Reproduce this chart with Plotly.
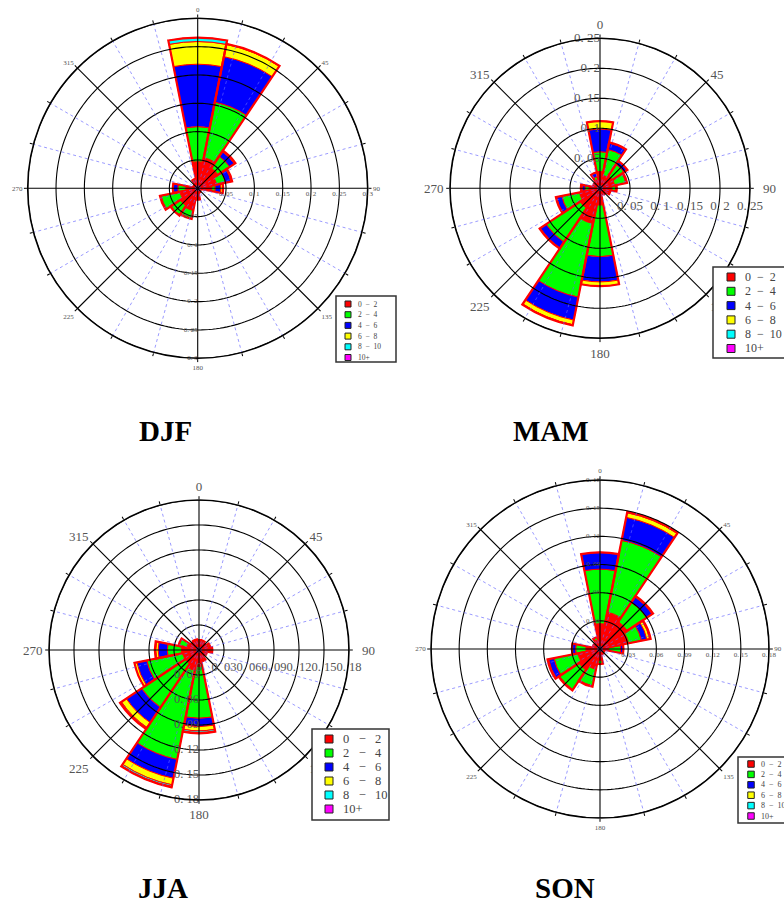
import numpy as np
import plotly.graph_objects as go

W, H = 784, 904
SERIF = "Liberation Serif, DejaVu Serif, serif"
NB = "\u00a0"

# ---------------- data ----------------
DIRECTIONS = [0, 22.5, 45, 67.5, 90, 112.5, 135, 157.5, 180, 202.5, 225, 247.5, 270, 292.5, 315, 337.5]
SPEED_BINS = ["0 \u2212 2", "2 \u2212 4", "4 \u2212 6", "6 \u2212 8", "8 \u2212 10", "10+"]
BIN_COLORS = ["#ff0000", "#00ff00", "#0000ff", "#ffff00", "#00ffff", "#ff00ff"]

# frequency of each speed class per direction (segment sizes)
DJF_0_2 = [0.047, 0.055, 0.043, 0.034, 0.025, 0.006, 0.005, 0.008, 0.018, 0.040, 0.037, 0.032, 0.021, 0.008, 0.008, 0.014]
DJF_2_4 = [0.062, 0.100, 0.025, 0.016, 0.006, 0, 0, 0, 0.002, 0.014, 0.020, 0.034, 0.014, 0, 0, 0.003]
DJF_4_6 = [0.110, 0.082, 0.010, 0.010, 0.010, 0, 0, 0, 0, 0.001, 0.001, 0.002, 0.008, 0, 0, 0]
DJF_6_8 = [0.040, 0.022, 0.002, 0.002, 0.004, 0, 0, 0, 0, 0, 0, 0, 0.001, 0, 0, 0]
DJF_8_10 = [0.007, 0.001, 0, 0, 0, 0, 0, 0, 0, 0, 0, 0, 0, 0, 0, 0]
DJF_10P = [0, 0, 0, 0, 0, 0, 0, 0, 0, 0, 0, 0, 0, 0, 0, 0]

MAM_0_2 = [0.028, 0.022, 0.025, 0.025, 0.020, 0.018, 0.012, 0.010, 0.028, 0.060, 0.040, 0.035, 0.018, 0.012, 0.010, 0.015]
MAM_2_4 = [0.033, 0.044, 0.023, 0.019, 0.006, 0, 0, 0, 0.086, 0.125, 0.068, 0.030, 0.007, 0, 0.002, 0.005]
MAM_4_6 = [0.038, 0.011, 0.006, 0.002, 0.002, 0, 0, 0, 0.042, 0.039, 0.012, 0.009, 0.005, 0, 0, 0.007]
MAM_6_8 = [0.013, 0.001, 0.001, 0, 0, 0, 0, 0, 0.007, 0.008, 0.001, 0.001, 0.002, 0, 0, 0]
MAM_8_10 = [0, 0, 0, 0, 0, 0, 0, 0, 0, 0.001, 0, 0, 0, 0, 0, 0]
MAM_10P = [0, 0, 0, 0, 0, 0, 0, 0, 0, 0, 0, 0, 0, 0, 0, 0]

JJA_0_2 = [0.010, 0.010, 0.010, 0.012, 0.014, 0.010, 0.008, 0.014, 0.020, 0.025, 0.020, 0.020, 0.021, 0.015, 0.012, 0.013]
JJA_2_4 = [0.002, 0.002, 0, 0.002, 0.002, 0, 0, 0, 0.062, 0.109, 0.063, 0.044, 0.017, 0.010, 0, 0]
JJA_4_6 = [0, 0, 0, 0, 0, 0, 0, 0, 0.010, 0.023, 0.022, 0.012, 0.011, 0, 0, 0]
JJA_6_8 = [0, 0, 0, 0, 0, 0, 0, 0, 0.005, 0.008, 0.007, 0.003, 0.003, 0, 0, 0]
JJA_8_10 = [0, 0, 0, 0, 0, 0, 0, 0, 0.002, 0.002, 0.001, 0, 0.001, 0, 0, 0]
JJA_10P = [0, 0, 0, 0, 0, 0, 0, 0, 0.001, 0.001, 0.001, 0, 0, 0, 0, 0]

SON_0_2 = [0.027, 0.040, 0.035, 0.031, 0.009, 0.005, 0.004, 0.006, 0.012, 0.022, 0.027, 0.024, 0.015, 0.008, 0.005, 0.010]
SON_2_4 = [0.058, 0.078, 0.025, 0.014, 0.013, 0, 0, 0, 0.004, 0.018, 0.025, 0.026, 0.011, 0, 0, 0.003]
SON_4_6 = [0.018, 0.025, 0.007, 0.006, 0.003, 0, 0, 0, 0, 0.001, 0.001, 0.006, 0.004, 0, 0, 0]
SON_6_8 = [0, 0.005, 0.001, 0.003, 0, 0, 0, 0, 0, 0, 0, 0.001, 0, 0, 0, 0]
SON_8_10 = [0, 0.001, 0, 0.001, 0, 0, 0, 0, 0, 0, 0, 0, 0, 0, 0, 0]
SON_10P = [0, 0, 0, 0, 0, 0, 0, 0, 0, 0, 0, 0, 0, 0, 0, 0]

# radial rings / tick labels
DJF_RINGS = [0.05, 0.1, 0.15, 0.2, 0.25, 0.3]
DJF_RING_LABELS = ["0. 05", "0. 1", "0. 15", "0. 2", "0. 25", "0. 3"]
MAM_RINGS = [0.05, 0.1, 0.15, 0.2, 0.25]
MAM_RING_LABELS = ["0. 05", "0. 1", "0. 15", "0. 2", "0. 25"]
JJA_RINGS = [0.03, 0.06, 0.09, 0.12, 0.15, 0.18]
JJA_RING_LABELS = ["0. 03", "0. 06", "0. 09", "0. 12", "0. 15", "0. 18"]
SON_RINGS = [0.03, 0.06, 0.09, 0.12, 0.15, 0.18]
SON_RING_LABELS = ["0. 03", "0. 06", "0. 09", "0. 12", "0. 15", "0. 18"]

ANGLE_TICKS = list(range(0, 360, 15))
ANGLE_LABELS = [str(a) if a % 45 == 0 else "" for a in ANGLE_TICKS]

# ---------------- layout config ----------------
seasons = [
    dict(name="DJF", bins=[DJF_0_2, DJF_2_4, DJF_4_6, DJF_6_8, DJF_8_10, DJF_10P],
         rings=DJF_RINGS, labels=DJF_RING_LABELS, zero=False, sub="polar",
         cx=197.7, cy=188.3, R=170, fs=7, afs=7, side_theta=180, title=(165, 431),
         tlen=0, pad90=0,
         leg=dict(l=336, t=296, r=396, b=362, sx=348, y0=304, step=10.7, sw=6, tx=356, fs=7.5, gap=2)),
    dict(name="MAM", bins=[MAM_0_2, MAM_2_4, MAM_4_6, MAM_6_8, MAM_8_10, MAM_10P],
         rings=MAM_RINGS, labels=MAM_RING_LABELS, zero=False, sub="polar2",
         cx=600, cy=188.3, R=150, fs=13, afs=13, side_theta=0, title=(551, 431),
         tlen=6, pad90=2,
         leg=dict(l=713, t=267, r=792, b=358, sx=731, y0=277, step=14.3, sw=8, tx=743, fs=12, gap=2)),
    dict(name="JJA", bins=[JJA_0_2, JJA_2_4, JJA_4_6, JJA_6_8, JJA_8_10, JJA_10P],
         rings=JJA_RINGS, labels=JJA_RING_LABELS, zero=True, sub="polar3",
         cx=199, cy=650, R=150, fs=12.5, afs=13, side_theta=180, title=(163, 888),
         tlen=5, pad90=2,
         leg=dict(l=312, t=729, r=389, b=820, sx=329, y0=739, step=14, sw=8, tx=341, fs=12.5, gap=3)),
    dict(name="SON", bins=[SON_0_2, SON_2_4, SON_4_6, SON_6_8, SON_8_10, SON_10P],
         rings=SON_RINGS, labels=SON_RING_LABELS, zero=False, sub="polar4",
         cx=600, cy=649, R=169, fs=7, afs=7, side_theta=0, title=(565, 888),
         tlen=0, pad90=0,
         leg=dict(l=738, t=757, r=792, b=823, sx=751, y0=764, step=10.4, sw=6.5, tx=759, fs=8, gap=2)),
]

fig = go.Figure()
shapes, annotations = [], []
layout_polars = {}

for s in seasons:
    sub = s["sub"]
    segs = np.array(s["bins"], dtype=float)
    base = np.vstack([np.zeros(len(DIRECTIONS)), np.cumsum(segs, axis=0)[:-1]])
    total = segs.sum(axis=0)
    rmax = s["rings"][-1]

    # stacked speed-class bars
    for k in range(len(SPEED_BINS)):
        fig.add_trace(go.Barpolar(
            r=segs[k], theta=DIRECTIONS, base=base[k], width=22.5,
            marker=dict(color=BIN_COLORS[k], line=dict(color="#ff0000", width=1)),
            subplot=sub, showlegend=False, hoverinfo="skip", name=SPEED_BINS[k]))

    # grid drawn above bars
    tc = np.linspace(0, 360, 241)
    ring_r, ring_t = [], []
    for v in s["rings"]:
        ring_r += [v] * len(tc) + [None]
        ring_t += list(tc) + [None]
    fig.add_trace(go.Scatterpolar(r=ring_r, theta=ring_t, mode="lines",
                                  line=dict(color="black", width=1.1), subplot=sub,
                                  showlegend=False, hoverinfo="skip"))
    sp_r, sp_t, bl_r, bl_t = [], [], [], []
    for a in ANGLE_TICKS:
        if a % 45 == 0:
            sp_r += [0, rmax, None]; sp_t += [a, a, None]
        else:
            bl_r += [0, rmax, None]; bl_t += [a, a, None]
    fig.add_trace(go.Scatterpolar(r=bl_r, theta=bl_t, mode="lines",
                                  line=dict(color="rgba(100,100,255,0.65)", width=1, dash="dot"),
                                  subplot=sub, showlegend=False, hoverinfo="skip"))
    fig.add_trace(go.Scatterpolar(r=sp_r, theta=sp_t, mode="lines",
                                  line=dict(color="black", width=1.1), subplot=sub,
                                  showlegend=False, hoverinfo="skip"))

    # outer outline of each bar
    fig.add_trace(go.Barpolar(
        r=total, theta=DIRECTIONS, width=22.5,
        marker=dict(color="rgba(0,0,0,0)", line=dict(color="#ff0000", width=2.2)),
        subplot=sub, showlegend=False, hoverinfo="skip"))

    # second set of radial labels
    fig.add_trace(go.Scatterpolar(
        r=s["rings"], theta=[s["side_theta"]] * len(s["rings"]), mode="text",
        text=s["labels"], textposition="middle left",
        textfont=dict(family=SERIF, size=s["fs"], color="#555"),
        subplot=sub, showlegend=False, hoverinfo="skip"))

    axis_vals = ([0] if s["zero"] else []) + s["rings"]
    axis_text = (["0"] if s["zero"] else []) + s["labels"]
    ang_text = [(NB * s["pad90"] + t) if a == 90 else t for a, t in zip(ANGLE_TICKS, ANGLE_LABELS)]

    layout_polars[sub] = dict(
        domain=dict(x=[(s["cx"] - s["R"]) / W, (s["cx"] + s["R"]) / W],
                    y=[1 - (s["cy"] + s["R"]) / H, 1 - (s["cy"] - s["R"]) / H]),
        bgcolor="white", barmode="overlay",
        angularaxis=dict(rotation=90, direction="clockwise", tickmode="array",
                         tickvals=ANGLE_TICKS, ticktext=ang_text, showgrid=False,
                         showline=True, linecolor="black", linewidth=1.6,
                         ticks="outside", ticklen=3, tickcolor="black",
                         tickfont=dict(family=SERIF, size=s["afs"], color="#555"),
                         layer="above traces"),
        radialaxis=dict(range=[0, rmax], tickmode="array", tickvals=axis_vals,
                        ticktext=axis_text, showgrid=False, showline=False,
                        ticks="outside" if s["tlen"] else "", ticklen=max(s["tlen"], 1),
                        tickcolor="rgba(0,0,0,0)",
                        angle=0, side="clockwise", tickangle=0,
                        tickfont=dict(family=SERIF, size=s["fs"], color="#555"),
                        layer="above traces"),
    )

    # title
    annotations.append(dict(x=s["title"][0] / W, y=1 - s["title"][1] / H, xref="paper", yref="paper",
                            text="<b>%s</b>" % s["name"], showarrow=False,
                            xanchor="center", yanchor="middle",
                            font=dict(family=SERIF, size=29, color="black")))

    # legend box
    L = s["leg"]
    shapes.append(dict(type="rect", xref="paper", yref="paper",
                       x0=L["l"] / W, x1=L["r"] / W, y0=1 - L["b"] / H, y1=1 - L["t"] / H,
                       line=dict(color="#333", width=1.5), fillcolor="white", layer="above"))
    for i, (lab, col) in enumerate(zip(SPEED_BINS, BIN_COLORS)):
        yc = L["y0"] + i * L["step"]
        hw = L["sw"] / 2
        shapes.append(dict(type="rect", xref="paper", yref="paper",
                           x0=(L["sx"] - hw) / W, x1=(L["sx"] + hw) / W,
                           y0=1 - (yc + hw) / H, y1=1 - (yc - hw) / H,
                           fillcolor=col, line=dict(color="#222", width=1), layer="above"))
        wide = lab.replace(" ", NB * L["gap"])
        annotations.append(dict(x=L["tx"] / W, y=1 - yc / H, xref="paper", yref="paper",
                                text=wide, showarrow=False, xanchor="left", yanchor="middle",
                                font=dict(family=SERIF, size=L["fs"], color="#444")))

fig.update_layout(
    width=W, height=H, margin=dict(l=0, r=0, t=0, b=0),
    paper_bgcolor="white", plot_bgcolor="white", showlegend=False,
    shapes=shapes, annotations=annotations, **layout_polars)

fig.write_html("out.html")
